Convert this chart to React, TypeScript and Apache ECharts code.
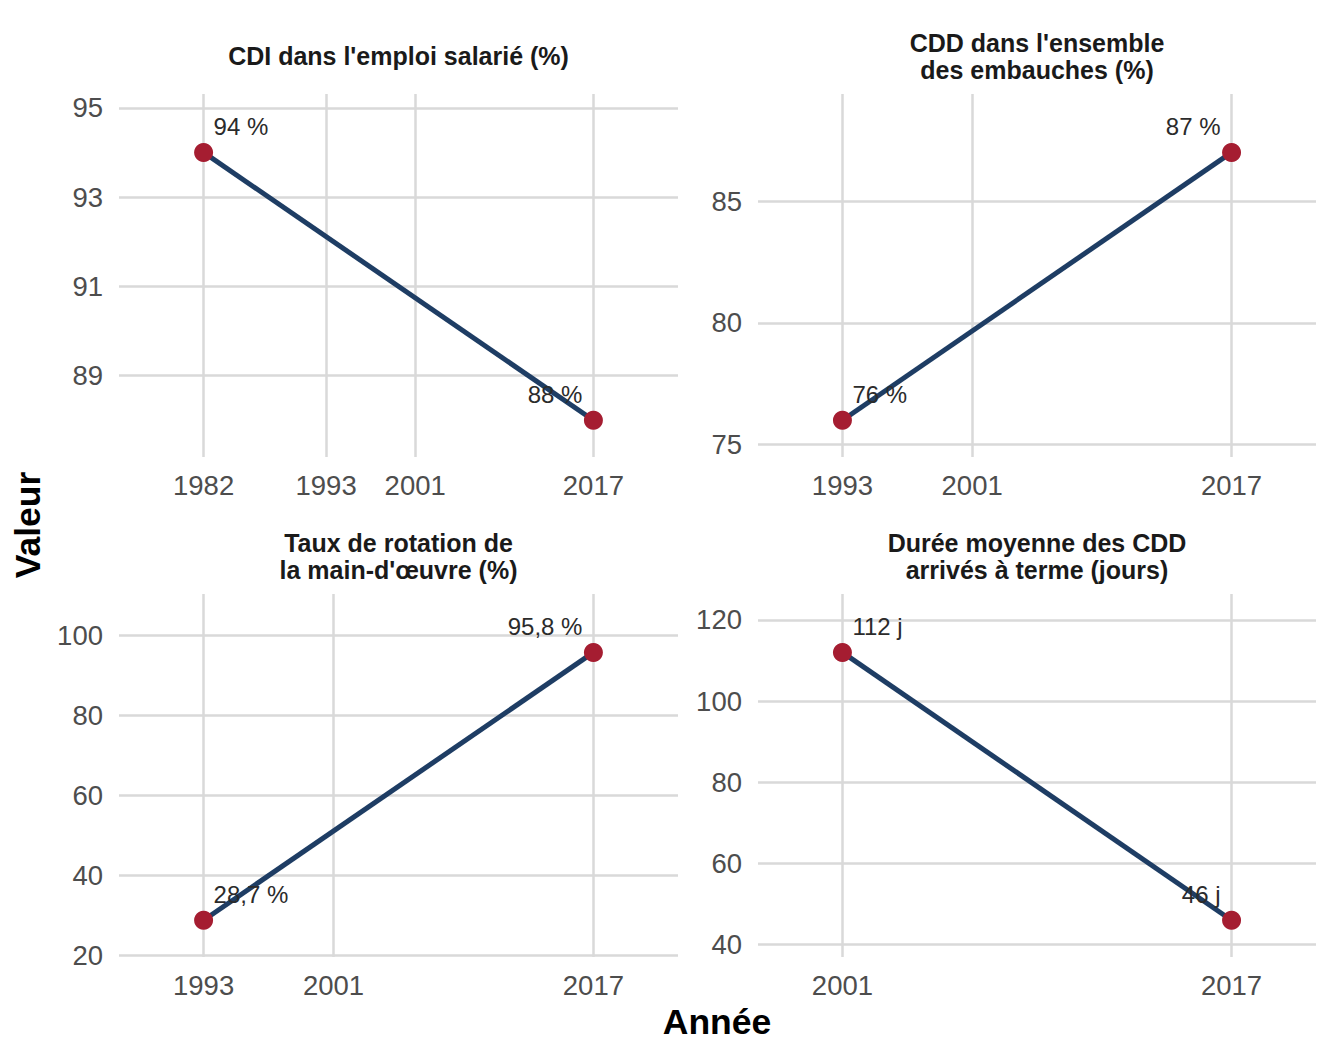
import { useEffect, useRef } from 'react';
import * as echarts from 'echarts';

// panel titles, in reading order
const panelTitles = [
  "CDI dans l'emploi salarié (%)",
  "CDD dans l'ensemble\ndes embauches (%)",
  "Taux de rotation de\nla main-d'œuvre (%)",
  'Durée moyenne des CDD\narrivés à terme (jours)',
];

// series values (year, value)
const cdiYears = [1982, 2017];
const cdiValues = [94, 88];
const cddYears = [1993, 2017];
const cddValues = [76, 87];
const rotationYears = [1993, 2017];
const rotationValues = [28.7, 95.8];
const dureeYears = [2001, 2017];
const dureeValues = [112, 46];

const units = [' %', ' %', ' %', ' j'];

// tick labels
const xTicks = [
  [1982, 1993, 2001, 2017],
  [1993, 2001, 2017],
  [1993, 2001, 2017],
  [2001, 2017],
];
const yTicks = [
  [89, 91, 93, 95],
  [75, 80, 85],
  [20, 40, 60, 80, 100],
  [40, 60, 80, 100, 120],
];

const allYears = [cdiYears, cddYears, rotationYears, dureeYears];
const allValues = [cdiValues, cddValues, rotationValues, dureeValues];

const FONT = '"Liberation Sans", Arial, Helvetica, sans-serif';
const LINE = '#1e3d64';
const POINT = '#a51d31';
const GRID = '#d9d9d9';

const panels = [
  { left: 119, top: 94, width: 559 },
  { left: 758, top: 94, width: 558 },
  { left: 119, top: 594, width: 559 },
  { left: 758, top: 594, width: 558 },
];
const PANEL_H = 363;

const fmt = (v: number) => String(v).replace('.', ',');

function xRange(ys: number[]) {
  const lo = Math.min(...ys);
  const hi = Math.max(...ys);
  const r = hi - lo;
  return [lo - 0.217 * r, hi + 0.217 * r];
}

function yRange(vs: number[]) {
  const lo = Math.min(...vs);
  const hi = Math.max(...vs);
  const r = hi - lo;
  return [lo - 0.137 * r, hi + 0.218 * r];
}

export default function App() {
  const chartRef = useRef<HTMLDivElement>(null);

  useEffect(() => {
    if (!chartRef.current) return;
    const chart = echarts.init(chartRef.current, null, { renderer: 'svg' });

    const grid = panels.map((p) => ({
      left: p.left,
      top: p.top,
      width: p.width,
      height: PANEL_H,
      containLabel: false,
    }));

    const xAxis = panels.map((_, i) => {
      const [min, max] = xRange(allYears[i]);
      return {
        type: 'value' as const,
        gridIndex: i,
        min,
        max,
        axisLine: { show: false },
        axisTick: { show: false, customValues: xTicks[i] },
        axisLabel: {
          customValues: xTicks[i],
          formatter: (v: number) => String(v),
          fontSize: 27.5,
          color: '#4d4d4d',
          fontFamily: FONT,
          margin: 14,
        },
        splitLine: { show: true, lineStyle: { color: GRID, width: 2.5 } },
      };
    });

    const yAxis = panels.map((_, i) => {
      const [min, max] = yRange(allValues[i]);
      return {
        type: 'value' as const,
        gridIndex: i,
        min,
        max,
        axisLine: { show: false },
        axisTick: { show: false, customValues: yTicks[i] },
        axisLabel: {
          customValues: yTicks[i],
          fontSize: 27.5,
          color: '#4d4d4d',
          fontFamily: FONT,
          margin: 16,
        },
        splitLine: { show: true, lineStyle: { color: GRID, width: 2.5 } },
      };
    });

    const series = panels.map((_, i) => ({
      type: 'line' as const,
      xAxisIndex: i,
      yAxisIndex: i,
      symbol: 'circle',
      symbolSize: 19,
      silent: true,
      lineStyle: { color: LINE, width: 5 },
      itemStyle: { color: POINT, borderWidth: 0 },
      label: {
        show: true,
        position: 'inside' as const,
        fontSize: 24,
        color: '#2b2b2b',
        fontFamily: FONT,
        formatter: (p: any) => fmt(p.value[1]) + units[i],
      },
      data: allYears[i].map((y, j) => ({
        value: [y, allValues[i][j]],
        label:
          j === 0
            ? { align: 'left', verticalAlign: 'middle', offset: [10, -26] }
            : { align: 'right', verticalAlign: 'middle', offset: [-11, -26] },
      })),
    }));

    const titleGraphics = panels.map((p, i) => ({
      type: 'text' as const,
      x: p.left + p.width / 2,
      y: p.top - 38,
      style: {
        text: panelTitles[i],
        align: 'center',
        verticalAlign: 'middle',
        fontSize: 25,
        fontWeight: 'bold',
        fontFamily: FONT,
        lineHeight: 27,
        fill: '#1a1a1a',
      },
    }));

    const option: echarts.EChartsOption = {
      animation: false,
      grid,
      xAxis,
      yAxis,
      series,
      graphic: [
        ...titleGraphics,
        {
          type: 'text',
          x: 28,
          y: 525,
          rotation: Math.PI / 2,
          style: {
            text: 'Valeur',
            align: 'center',
            verticalAlign: 'middle',
            fontSize: 35.5,
            fontWeight: 'bold',
            fontFamily: FONT,
            fill: '#000',
          },
        },
        {
          type: 'text',
          x: 717,
          y: 1022,
          style: {
            text: 'Année',
            align: 'center',
            verticalAlign: 'middle',
            fontSize: 35.5,
            fontWeight: 'bold',
            fontFamily: FONT,
            fill: '#000',
          },
        },
      ],
    };

    chart.setOption(option);

    const onResize = () => chart.resize();
    window.addEventListener('resize', onResize);
    return () => {
      window.removeEventListener('resize', onResize);
      chart.dispose();
    };
  }, []);

  return (
    <div
      ref={chartRef}
      style={{ position: 'fixed', left: 0, top: 0, width: 1344, height: 1056, background: '#fff' }}
    ></div>
  );
}
